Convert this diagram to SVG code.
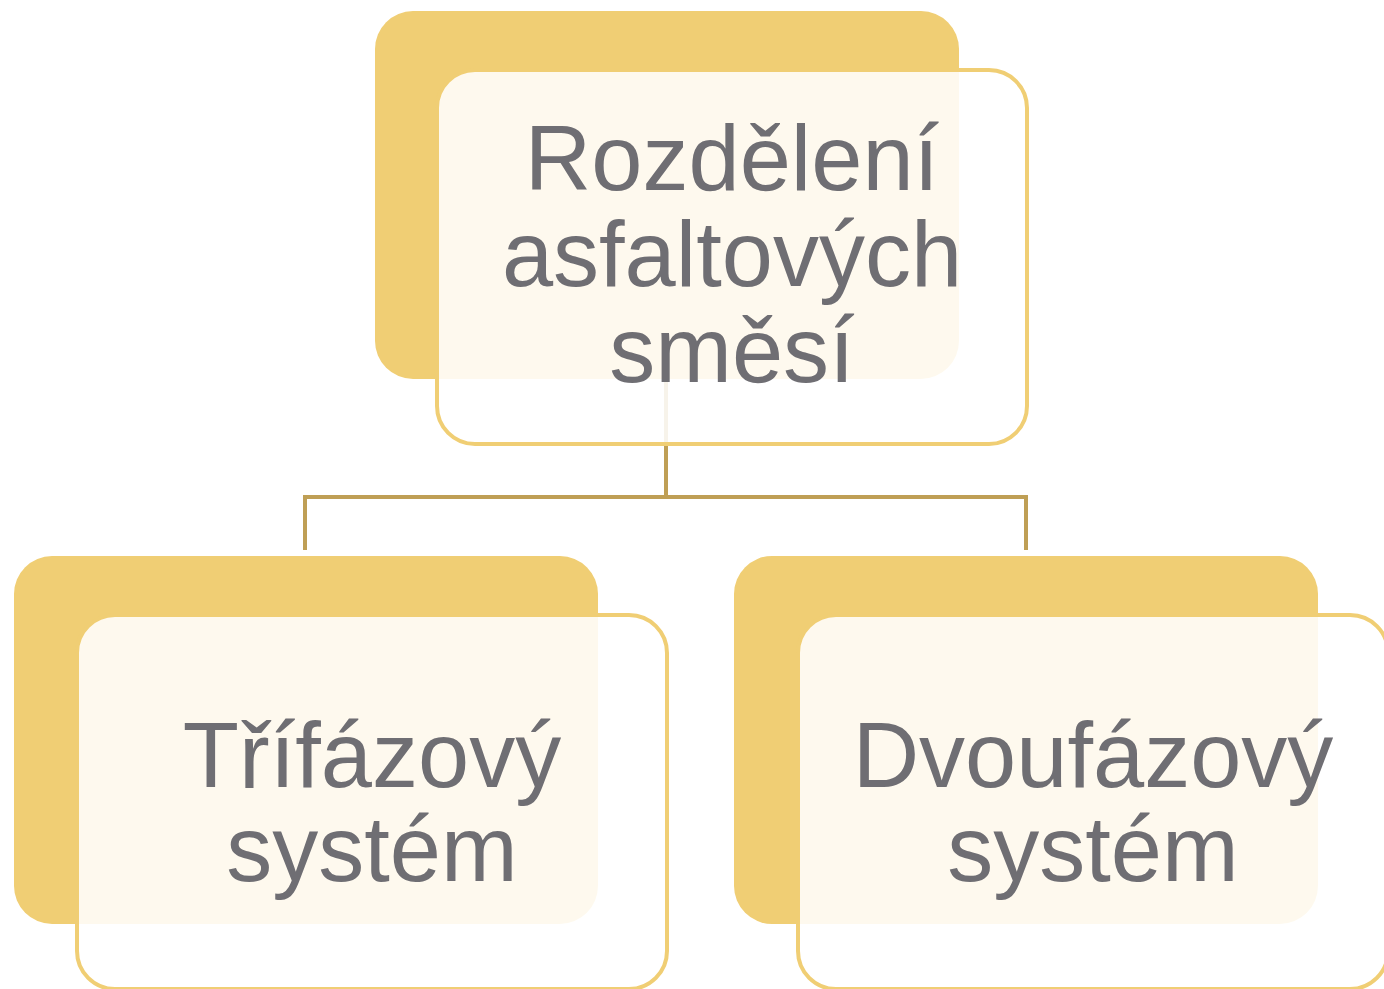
<svg xmlns="http://www.w3.org/2000/svg" width="1384" height="989" viewBox="0 0 1384 989">
<style>
.back{fill:#F0CE74;}
.front{fill:#FFFFFF;fill-opacity:0.88;stroke:#F0CE74;stroke-width:4;}
.conn{fill:none;stroke:#BF9F55;stroke-width:4;}
.lbl{font-family:"Liberation Sans",Arial,sans-serif;font-size:92px;fill:#6F6E73;text-anchor:middle;}
</style>
<rect width="1384" height="989" fill="#FFFFFF"/>
<g id="connectors">
<path class="conn" d="M666,379 V497 M305,497 H1026 M305,495 V550 M1026,495 V550"/>
</g>
<g id="node-root">
<rect class="back" x="375" y="11" width="584" height="368" rx="38" ry="38"/>
<rect class="front" x="437" y="70" width="590" height="374" rx="38" ry="38"/>
<text class="lbl" x="732" y="190">Rozdělení</text>
<text class="lbl" x="732" y="286">asfaltových</text>
<text class="lbl" x="732" y="382">směsí</text>
</g>
<g id="node-trifazovy">
<rect class="back" x="14" y="556" width="584" height="368" rx="38" ry="38"/>
<rect class="front" x="77" y="615" width="590" height="374" rx="38" ry="38"/>
<text class="lbl" x="372" y="787">Třífázový</text>
<text class="lbl" x="372" y="881">systém</text>
</g>
<g id="node-dvoufazovy">
<rect class="back" x="734" y="556" width="584" height="368" rx="38" ry="38"/>
<rect class="front" x="798" y="615" width="590" height="374" rx="38" ry="38"/>
<text class="lbl" x="1093" y="787">Dvoufázový</text>
<text class="lbl" x="1093" y="881">systém</text>
</g>
</svg>
